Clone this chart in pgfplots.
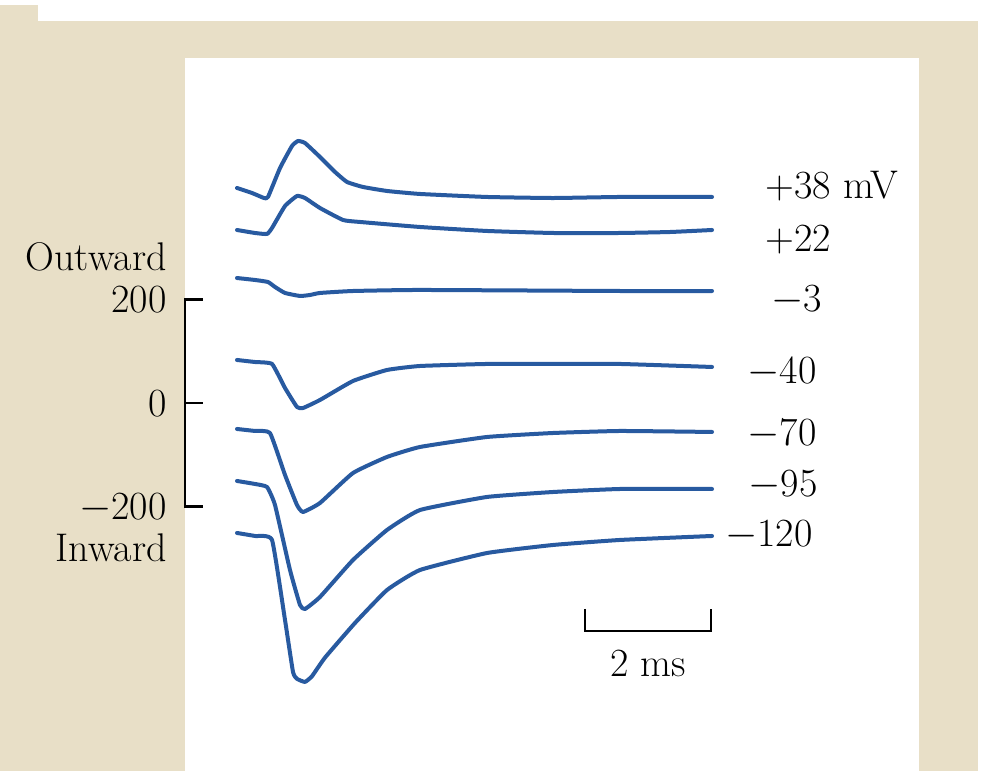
\documentclass[border=0pt]{standalone}
\usepackage{pgfplots}
\pgfplotsset{compat=1.18}
\definecolor{beige}{RGB}{232,223,199}
\definecolor{trace}{RGB}{40,90,160}
\tikzset{lbl/.style={font=\fontsize{20}{23}\selectfont, inner sep=0pt, text height=13.5pt, text depth=0pt}}
\pgfplotsset{tr/.style={color=trace, line width=2pt, line join=round, line cap=round, smooth, tension=0.25, mark=none, solid}}
\begin{document}
\begin{tikzpicture}
\begin{axis}[
  x=31.5pt, y=0.25875pt,
  xmin=-3.7619, xmax=11.9524, ymin=-711.11, ymax=778.74,
  hide axis, clip=false, scale only axis,
]
% backgrounds
\fill[white] (axis cs:-3.7619,-711.11) rectangle (axis cs:11.9524,778.74);
\fill[beige] (axis cs:-3.7619,-711.11) rectangle (axis cs:11.762,738.2);
\fill[beige] (axis cs:-3.7619,738.2) rectangle (axis cs:-3.159,769.1);
\fill[white] (axis cs:-0.8254,-711.11) rectangle (axis cs:10.825,666.7);

% +38
\addplot[tr] coordinates {(0,415.5)(0.238,405.8)(0.429,396.1)(0.492,398.1)(0.683,454.1)(0.873,496.6)(0.968,506.3)(1.079,502.4)(1.317,475.4)(1.556,446.4)(1.746,427.1)(2.0,417.4)(2.381,409.7)(2.905,403.9)(3.968,398.1)(5.016,396.1)(6.079,398.1)(7.540,398.1)};
% +22
\addplot[tr] coordinates {(0,334.3)(0.286,328.5)(0.476,326.6)(0.556,338.2)(0.762,380.7)(0.952,400.0)(1.079,396.1)(1.317,376.8)(1.683,353.6)(1.952,349.8)(2.905,340.1)(3.968,332.4)(5.016,328.5)(6.079,328.5)(6.873,330.4)(7.540,334.3)};
% -3
\addplot[tr] coordinates {(0,241.5)(0.286,237.7)(0.492,233.8)(0.603,224.2)(0.762,212.6)(1.0,206.8)(1.159,208.7)(1.317,212.6)(1.841,216.4)(2.905,218.4)(6.079,216.4)(7.540,216.4)};
% -40
\addplot[tr] coordinates {(0,83.1)(0.286,79.2)(0.556,75.4)(0.762,29.0)(0.952,-7.7)(1.048,-9.7)(1.317,5.8)(1.841,42.5)(2.381,63.8)(2.905,71.5)(3.968,75.4)(5.016,75.4)(6.079,75.4)(7.540,69.6)};
% -70
\addplot[tr] coordinates {(0,-50.2)(0.286,-54.1)(0.524,-58.0)(0.762,-139.1)(0.952,-197.1)(1.048,-210.6)(1.317,-193.2)(1.841,-135.3)(2.381,-104.3)(2.905,-85.0)(3.968,-65.7)(5.016,-58.0)(6.079,-54.1)(7.540,-56.0)};
% -95
\addplot[tr] coordinates {(0,-150.7)(0.286,-156.5)(0.476,-162.3)(0.603,-197.1)(0.841,-322.7)(1.0,-390.3)(1.079,-398.1)(1.317,-374.9)(1.841,-303.4)(2.381,-245.4)(2.905,-206.8)(3.968,-181.6)(5.016,-172.0)(6.079,-166.2)(7.540,-166.2)};
% -120
\addplot[tr] coordinates {(0,-251.2)(0.286,-257.0)(0.556,-264.7)(0.762,-419.3)(0.889,-519.8)(0.952,-533.0)(1.079,-539.0)(1.190,-528.0)(1.397,-492.0)(1.873,-425.1)(2.381,-361.4)(2.905,-322.7)(3.968,-289.9)(5.016,-274.4)(6.079,-264.7)(7.540,-257.0)};

% current scale bar
\draw[black, line width=1.2pt] (axis cs:-0.54,200) -- (axis cs:-0.8254,200) -- (axis cs:-0.8254,-200) -- (axis cs:-0.54,-200);
\draw[black, line width=1.2pt] (axis cs:-0.8254,0) -- (axis cs:-0.54,0);
\node[lbl, anchor=east] at (axis cs:-1.111,200) {200};
\node[lbl, anchor=east] at (axis cs:-1.111,0) {0};
\node[lbl, anchor=east] at (axis cs:-1.111,-200) {$-$200};
\node[lbl, anchor=east] at (axis cs:-1.111,282) {Outward};
\node[lbl, anchor=east] at (axis cs:-1.111,-280) {Inward};

% time scale bar
\draw[black, line width=1.2pt] (axis cs:5.524,-398) -- (axis cs:5.524,-440.6) -- (axis cs:7.524,-440.6) -- (axis cs:7.524,-398);
\node[lbl] at (axis cs:6.524,-502.4) {2 ms};

% voltage labels
\node[lbl, anchor=west] at (axis cs:8.381,421.3) {+38 mV};
\node[lbl, anchor=west] at (axis cs:8.381,318.8) {+22};
\node[lbl, anchor=east] at (axis cs:9.286,202.9) {$-$3};
\node[lbl, anchor=east] at (axis cs:9.206,63.8) {$-$40};
\node[lbl, anchor=east] at (axis cs:9.206,-56.0) {$-$70};
\node[lbl, anchor=east] at (axis cs:9.222,-154.6) {$-$95};
\node[lbl, anchor=east] at (axis cs:9.143,-251.2) {$-$120};
\end{axis}
\end{tikzpicture}
\end{document}
